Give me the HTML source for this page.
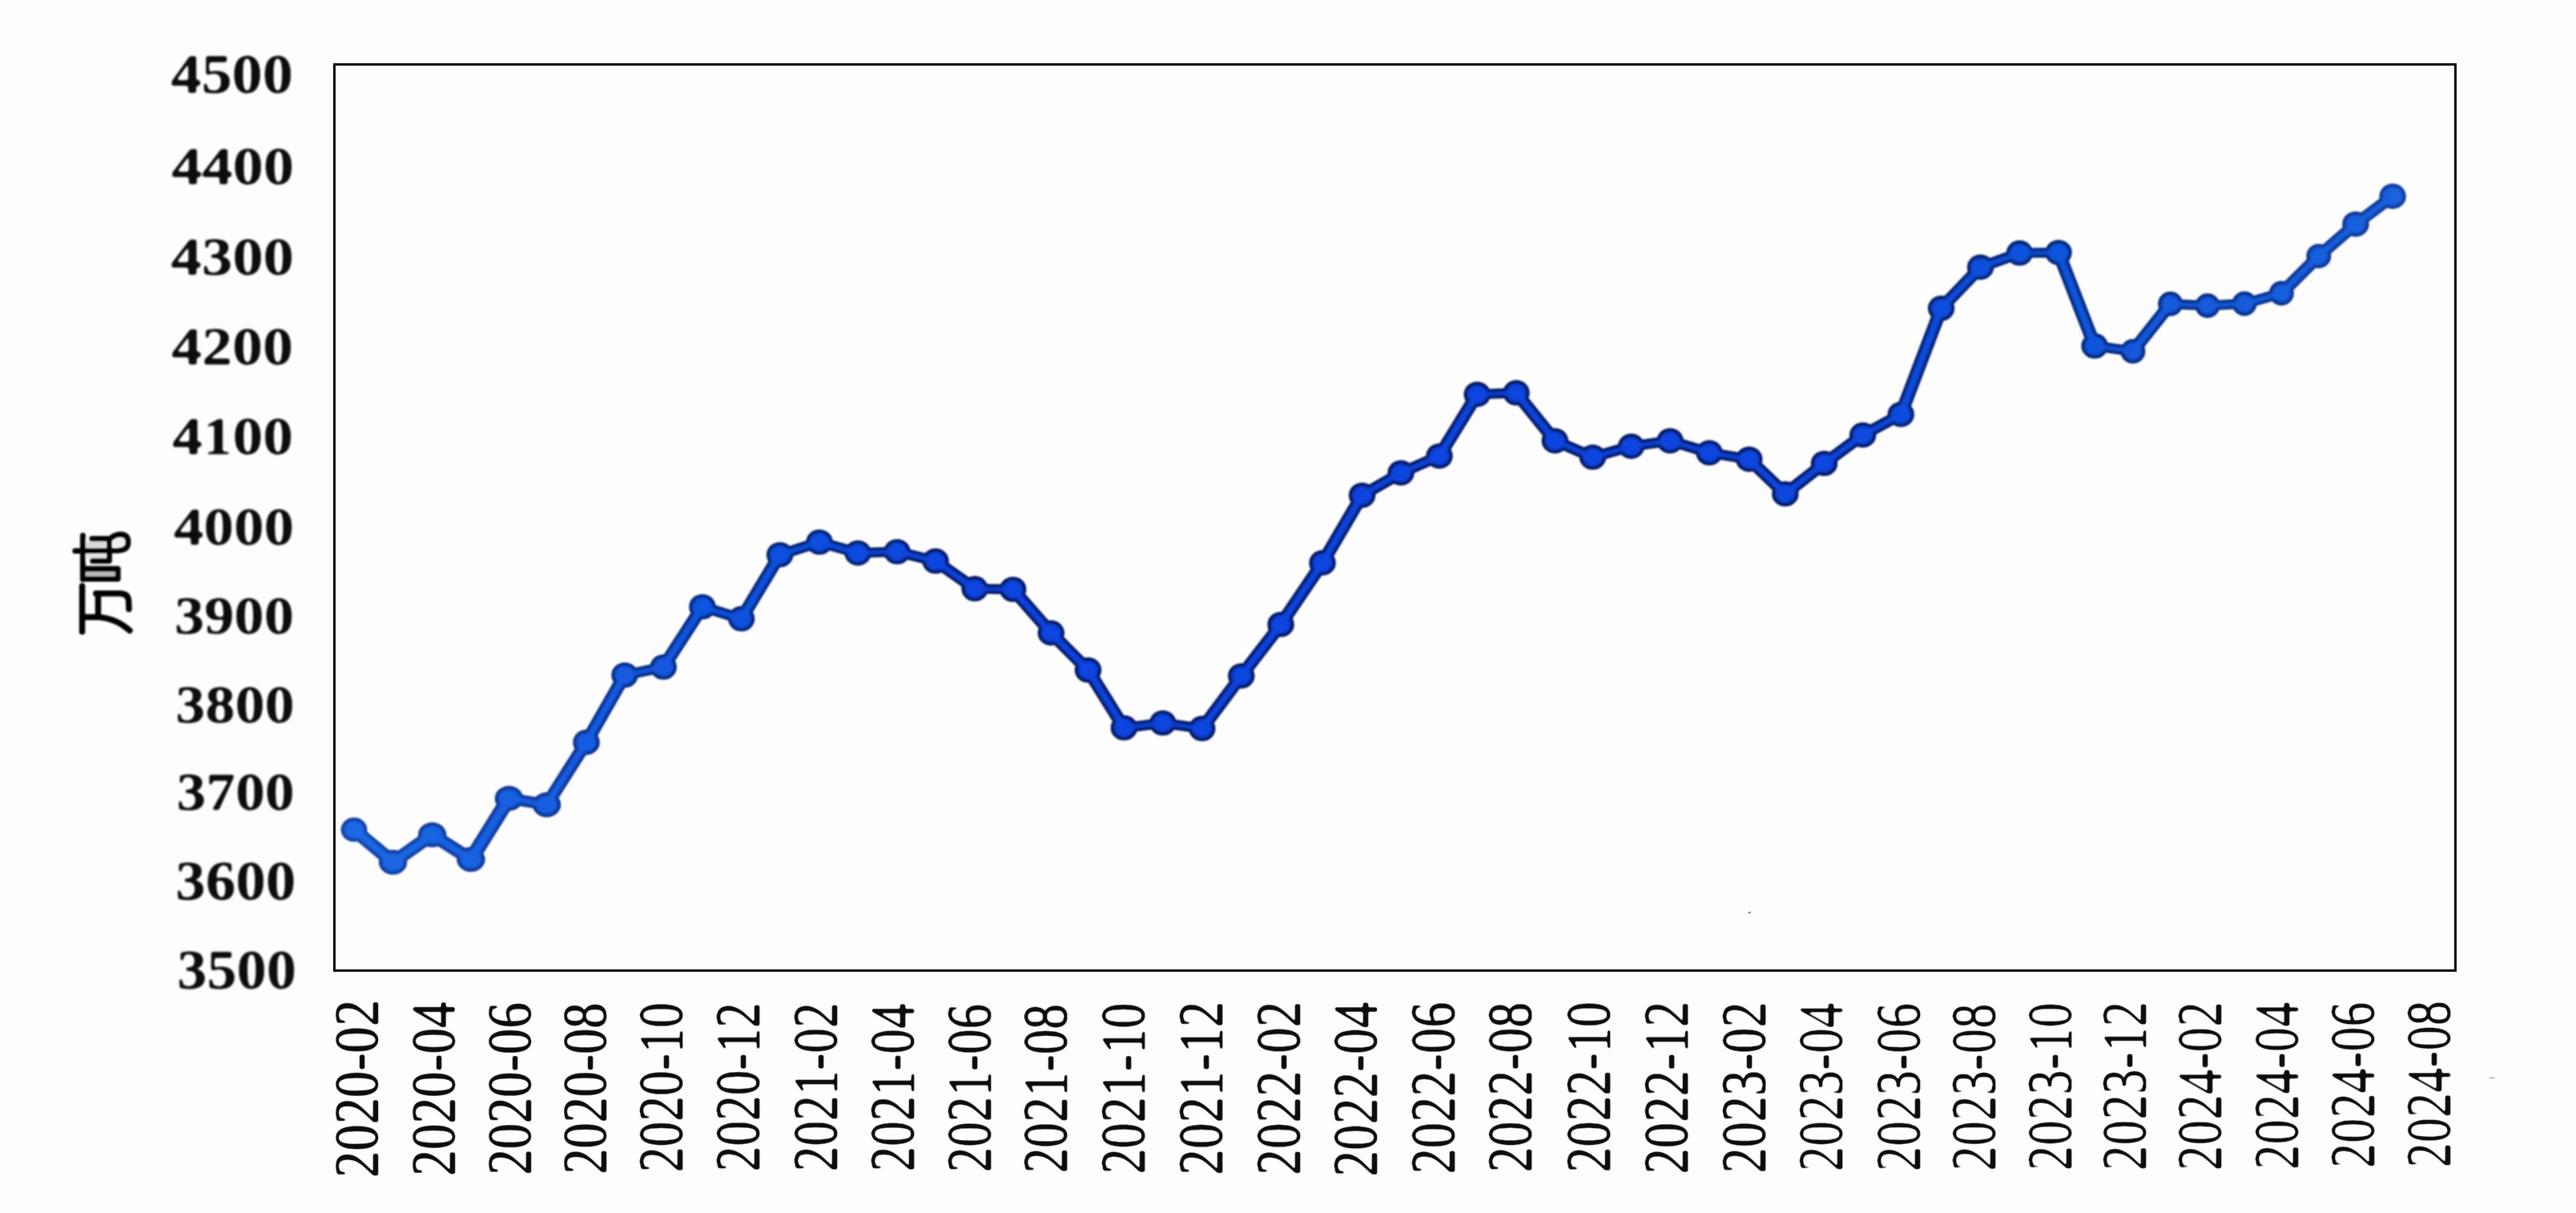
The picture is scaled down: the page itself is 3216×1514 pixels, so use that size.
<!DOCTYPE html>
<html lang="zh"><head><meta charset="utf-8"><title>chart</title>
<style>
html,body{margin:0;padding:0;background:#fdfdfd;}
html,body{width:3216px;height:1514px;}body{position:relative;font-family:"Liberation Serif",serif;}
svg{display:block;position:absolute;left:0;top:0;}
.yl{font-family:"Liberation Serif",serif;font-weight:bold;font-size:70.0px;fill:#0a0a0a;text-anchor:start;}
.xl{font-family:"Liberation Serif",serif;font-weight:normal;font-size:65.0px;fill:#0a0a0a;text-anchor:start;}
</style></head><body>
<svg width="3216" height="1514" viewBox="0 0 3216 1514" role="img" aria-label="line chart, 2020-02 to 2024-08">
<defs>
<filter id="b1" x="-5%" y="-5%" width="110%" height="110%"><feGaussianBlur stdDeviation="1.0"/></filter>
<filter id="b2" x="-5%" y="-5%" width="110%" height="110%"><feGaussianBlur stdDeviation="2.1"/></filter>
<filter id="b3" x="-5%" y="-5%" width="110%" height="110%"><feGaussianBlur stdDeviation="0.7"/></filter>
<linearGradient id="gb" gradientUnits="userSpaceOnUse" x1="420" y1="0" x2="3000" y2="0"><stop offset="0" stop-color="#1c6ae4"/><stop offset="0.16" stop-color="#1258e0"/><stop offset="0.3" stop-color="#0c44e0"/><stop offset="0.72" stop-color="#0c46e0"/><stop offset="0.86" stop-color="#1258dc"/><stop offset="1" stop-color="#1a62de"/></linearGradient>
<linearGradient id="gd" gradientUnits="userSpaceOnUse" x1="420" y1="0" x2="3000" y2="0"><stop offset="0" stop-color="#0a369a"/><stop offset="0.3" stop-color="#020e4a"/><stop offset="0.72" stop-color="#020e4a"/><stop offset="1" stop-color="#08308e"/></linearGradient>
<filter id="soft" x="-5%" y="-5%" width="110%" height="110%"><feGaussianBlur stdDeviation="1.5"/><feComponentTransfer><feFuncA type="linear" slope="2.6" intercept="-0.80"/></feComponentTransfer><feGaussianBlur stdDeviation="0.8"/></filter>
<filter id="softx" x="-5%" y="-5%" width="110%" height="110%"><feGaussianBlur stdDeviation="1.05"/><feComponentTransfer><feFuncA type="linear" slope="2.4" intercept="-0.5"/></feComponentTransfer><feGaussianBlur stdDeviation="0.4"/></filter>
<filter id="softm" x="-5%" y="-5%" width="110%" height="110%"><feGaussianBlur stdDeviation="0 1.2"/><feComponentTransfer><feFuncA type="linear" slope="4.0" intercept="-2.140"/></feComponentTransfer><feGaussianBlur stdDeviation="1.0"/><feComponentTransfer><feFuncA type="linear" slope="2.4" intercept="-0.5"/></feComponentTransfer><feGaussianBlur stdDeviation="0.4"/></filter>
<filter id="softr" x="-5%" y="-5%" width="110%" height="110%"><feGaussianBlur stdDeviation="0 1.2"/><feComponentTransfer><feFuncA type="linear" slope="4.0" intercept="-2.480"/></feComponentTransfer><feGaussianBlur stdDeviation="1.0"/><feComponentTransfer><feFuncA type="linear" slope="2.4" intercept="-0.5"/></feComponentTransfer><feGaussianBlur stdDeviation="0.4"/></filter>
<filter id="softt" x="-10%" y="-10%" width="120%" height="120%"><feGaussianBlur stdDeviation="0.8"/></filter>
</defs>
<rect x="0" y="0" width="3216" height="1514" fill="#fdfdfd"/>
<rect x="417.45" y="80.4" width="2648.0" height="1131.0" fill="none" stroke="#050505" stroke-width="2.95"/>
<g filter="url(#soft)">
<text class="yl" transform="translate(213.25,116.21) scale(1.0908,0.9820)" x="0" y="0">4500</text>
<text class="yl" transform="translate(213.94,229.72) scale(1.0938,0.9672)" x="0" y="0">4400</text>
<text class="yl" transform="translate(213.24,343.33) scale(1.0989,0.9524)" x="0" y="0">4300</text>
<text class="yl" transform="translate(213.95,454.82) scale(1.0857,0.9672)" x="0" y="0">4200</text>
<text class="yl" transform="translate(215.06,566.73) scale(1.0777,0.9524)" x="0" y="0">4100</text>
<text class="yl" transform="translate(216.76,679.92) scale(1.0733,0.9735)" x="0" y="0">4000</text>
<text class="yl" transform="translate(217.70,790.73) scale(1.0664,0.9524)" x="0" y="0">3900</text>
<text class="yl" transform="translate(219.11,901.62) scale(1.0612,0.9672)" x="0" y="0">3800</text>
<text class="yl" transform="translate(220.13,1011.42) scale(1.0538,0.9672)" x="0" y="0">3700</text>
<text class="yl" transform="translate(219.08,1123.21) scale(1.0738,0.9884)" x="0" y="0">3600</text>
<text class="yl" transform="translate(221.11,1234.01) scale(1.0642,0.9884)" x="0" y="0">3500</text>
</g>
<g filter="url(#softx)">
<text class="xl" transform="translate(471.01,1469.90) rotate(-90) scale(1.0256,1.2125)" x="0" y="0">2020-02</text>
<text class="xl" transform="translate(567.01,1467.63) rotate(-90) scale(1.0028,1.2125)" x="0" y="0">2020-04</text>
<text class="xl" transform="translate(661.81,1466.61) rotate(-90) scale(0.9942,1.2125)" x="0" y="0">2020-06</text>
<text class="xl" transform="translate(756.21,1465.49) rotate(-90) scale(0.9875,1.2125)" x="0" y="0">2020-08</text>
</g>
<g filter="url(#softm)" stroke="#0a0a0a" stroke-width="0.7" stroke-linejoin="round">
<text class="xl" transform="translate(850.51,1463.36) rotate(-90) scale(0.9794,1.2125)" x="0" y="0">2020-10</text>
<text class="xl" transform="translate(947.31,1462.25) rotate(-90) scale(0.9742,1.2125)" x="0" y="0">2020-12</text>
<text class="xl" transform="translate(1043.81,1462.25) rotate(-90) scale(0.9742,1.2125)" x="0" y="0">2021-02</text>
<text class="xl" transform="translate(1140.21,1462.23) rotate(-90) scale(0.9675,1.2125)" x="0" y="0">2021-04</text>
<text class="xl" transform="translate(1235.61,1463.34) rotate(-90) scale(0.9720,1.2125)" x="0" y="0">2021-06</text>
<text class="xl" transform="translate(1331.41,1464.36) rotate(-90) scale(0.9761,1.2125)" x="0" y="0">2021-08</text>
<text class="xl" transform="translate(1428.41,1465.49) rotate(-90) scale(0.9875,1.2125)" x="0" y="0">2021-10</text>
<text class="xl" transform="translate(1524.81,1466.63) rotate(-90) scale(1.0018,1.2125)" x="0" y="0">2021-12</text>
<text class="xl" transform="translate(1621.81,1466.63) rotate(-90) scale(1.0018,1.2125)" x="0" y="0">2022-02</text>
<text class="xl" transform="translate(1718.31,1468.75) rotate(-90) scale(1.0079,1.2125)" x="0" y="0">2022-04</text>
<text class="xl" transform="translate(1814.61,1465.50) rotate(-90) scale(0.9923,1.2125)" x="0" y="0">2022-06</text>
<text class="xl" transform="translate(1911.41,1463.37) rotate(-90) scale(0.9813,1.2125)" x="0" y="0">2022-08</text>
<text class="xl" transform="translate(2008.51,1463.38) rotate(-90) scale(0.9846,1.2125)" x="0" y="0">2022-10</text>
<text class="xl" transform="translate(2106.11,1465.52) rotate(-90) scale(0.9966,1.2125)" x="0" y="0">2022-12</text>
<text class="xl" transform="translate(2203.11,1464.39) rotate(-90) scale(0.9876,1.2125)" x="0" y="0">2023-02</text>
</g>
<g filter="url(#softr)" stroke="#0a0a0a" stroke-width="0.7" stroke-linejoin="round">
<text class="xl" transform="translate(2299.41,1462.25) rotate(-90) scale(0.9727,1.2125)" x="0" y="0">2023-04</text>
<text class="xl" transform="translate(2396.41,1462.24) rotate(-90) scale(0.9720,1.2125)" x="0" y="0">2023-06</text>
<text class="xl" transform="translate(2490.21,1461.83) rotate(-90) scale(0.9671,1.2125)" x="0" y="0">2023-08</text>
<text class="xl" transform="translate(2584.51,1461.13) rotate(-90) scale(0.9690,1.2125)" x="0" y="0">2023-10</text>
<text class="xl" transform="translate(2678.31,1461.16) rotate(-90) scale(0.9761,1.2125)" x="0" y="0">2023-12</text>
<text class="xl" transform="translate(2772.41,1461.15) rotate(-90) scale(0.9742,1.2125)" x="0" y="0">2024-02</text>
<text class="xl" transform="translate(2867.81,1460.03) rotate(-90) scale(0.9675,1.2125)" x="0" y="0">2024-04</text>
<text class="xl" transform="translate(2962.71,1457.90) rotate(-90) scale(0.9587,1.2125)" x="0" y="0">2024-06</text>
<text class="xl" transform="translate(3057.61,1457.51) rotate(-90) scale(0.9624,1.2125)" x="0" y="0">2024-08</text>
</g>
<g aria-label="万吨" filter="url(#softt)" fill="none" stroke="#050505" stroke-linecap="round" stroke-linejoin="round">
<g filter="url(#b2)" stroke="none">
<rect x="106" y="675.5" width="28" height="9" fill="#d6d6d6"/>
<rect x="106" y="690" width="28" height="7.5" fill="#e2e2e2"/>
<rect x="105" y="712.5" width="41" height="8" fill="#b4b4b4"/>
<rect x="141" y="671.5" width="15" height="11" fill="#ececec"/>
</g>
<g stroke-width="6.8">
<path d="M103.4,668.3 L103.4,723"/>
<path d="M103.4,710 L147.2,710 L147.2,722.6 L103.4,722.6"/>
<path d="M93.8,687.7 L148,687.2 Q159.8,686.6 160,676.8 Q160,667.2 150.5,667 Q143.5,667.2 138.5,671.8"/>
<path d="M114.8,672.4 L136.4,672.4 L136.4,700.1 L115.4,700.1"/>
</g>
<g stroke-width="7.4">
<path d="M102.6,731.4 L102.6,788.4"/>
<path d="M102.6,770.3 L123,770.1 C139,771.6 152,777.8 162,787"/>
<path d="M122.5,769 L122.5,741.2 M119.8,740.8 L150,740.8 Q160,741 160.6,750 L161,760.3"/>
</g>
</g>
<g filter="url(#b1)" stroke="url(#gd)" fill="url(#gd)" stroke-linecap="round">
<line x1="442.0" y1="1035.6" x2="490.6" y2="1076.2" stroke-width="16.8"/>
<line x1="490.6" y1="1076.2" x2="539.6" y2="1041.9" stroke-width="16.4"/>
<line x1="539.6" y1="1041.9" x2="587.9" y2="1072.7" stroke-width="16.2"/>
<line x1="587.9" y1="1072.7" x2="635.4" y2="996.5" stroke-width="18.1"/>
<line x1="635.4" y1="996.5" x2="682.5" y2="1004.4" stroke-width="14.0"/>
<line x1="682.5" y1="1004.4" x2="732.0" y2="926.5" stroke-width="15.9"/>
<line x1="732.0" y1="926.5" x2="780.0" y2="842.6" stroke-width="16.0"/>
<line x1="780.0" y1="842.6" x2="828.2" y2="832.6" stroke-width="12.9"/>
<line x1="828.2" y1="832.6" x2="876.9" y2="757.4" stroke-width="15.9"/>
<line x1="876.9" y1="757.4" x2="925.6" y2="772.3" stroke-width="13.3"/>
<line x1="925.6" y1="772.3" x2="973.6" y2="692.4" stroke-width="15.9"/>
<line x1="973.6" y1="692.4" x2="1023.0" y2="676.6" stroke-width="13.4"/>
<line x1="1023.0" y1="676.6" x2="1071.0" y2="690.2" stroke-width="13.3"/>
<line x1="1071.0" y1="690.2" x2="1120.0" y2="688.6" stroke-width="12.2"/>
<line x1="1120.0" y1="688.6" x2="1168.0" y2="700.3" stroke-width="13.1"/>
<line x1="1168.0" y1="700.3" x2="1217.0" y2="734.8" stroke-width="14.6"/>
<line x1="1217.0" y1="734.8" x2="1264.6" y2="735.6" stroke-width="12.1"/>
<line x1="1264.6" y1="735.6" x2="1312.2" y2="790.0" stroke-width="15.5"/>
<line x1="1312.2" y1="790.0" x2="1358.4" y2="836.3" stroke-width="15.3"/>
<line x1="1358.4" y1="836.3" x2="1403.3" y2="908.4" stroke-width="15.9"/>
<line x1="1403.3" y1="908.4" x2="1451.7" y2="902.4" stroke-width="12.6"/>
<line x1="1451.7" y1="902.4" x2="1500.7" y2="909.3" stroke-width="12.6"/>
<line x1="1500.7" y1="909.3" x2="1549.7" y2="843.6" stroke-width="15.7"/>
<line x1="1549.7" y1="843.6" x2="1599.0" y2="779.4" stroke-width="15.6"/>
<line x1="1599.0" y1="779.4" x2="1651.0" y2="702.5" stroke-width="15.8"/>
<line x1="1651.0" y1="702.5" x2="1700.5" y2="618.2" stroke-width="16.0"/>
<line x1="1700.5" y1="618.2" x2="1749.0" y2="590.2" stroke-width="14.3"/>
<line x1="1749.0" y1="590.2" x2="1797.0" y2="569.2" stroke-width="13.8"/>
<line x1="1797.0" y1="569.2" x2="1844.2" y2="492.2" stroke-width="15.9"/>
<line x1="1844.2" y1="492.2" x2="1893.0" y2="490.3" stroke-width="12.2"/>
<line x1="1893.0" y1="490.3" x2="1941.3" y2="550.2" stroke-width="15.6"/>
<line x1="1941.3" y1="550.2" x2="1988.4" y2="570.6" stroke-width="13.8"/>
<line x1="1988.4" y1="570.6" x2="2036.5" y2="557.0" stroke-width="13.3"/>
<line x1="2036.5" y1="557.0" x2="2085.0" y2="550.2" stroke-width="12.6"/>
<line x1="2085.0" y1="550.2" x2="2134.0" y2="565.1" stroke-width="13.3"/>
<line x1="2134.0" y1="565.1" x2="2183.7" y2="573.2" stroke-width="12.7"/>
<line x1="2183.7" y1="573.2" x2="2228.8" y2="616.4" stroke-width="15.2"/>
<line x1="2228.8" y1="616.4" x2="2277.4" y2="578.4" stroke-width="14.8"/>
<line x1="2277.4" y1="578.4" x2="2325.6" y2="543.0" stroke-width="14.7"/>
<line x1="2325.6" y1="543.0" x2="2373.2" y2="517.2" stroke-width="14.2"/>
<line x1="2373.2" y1="517.2" x2="2423.5" y2="384.8" stroke-width="16.3"/>
<line x1="2423.5" y1="384.8" x2="2472.5" y2="333.5" stroke-width="15.3"/>
<line x1="2472.5" y1="333.5" x2="2521.4" y2="315.8" stroke-width="13.6"/>
<line x1="2521.4" y1="315.8" x2="2570.0" y2="315.2" stroke-width="12.1"/>
<line x1="2570.0" y1="315.2" x2="2615.1" y2="431.8" stroke-width="16.3"/>
<line x1="2615.1" y1="431.8" x2="2662.8" y2="438.4" stroke-width="12.6"/>
<line x1="2662.8" y1="438.4" x2="2709.6" y2="379.3" stroke-width="15.6"/>
<line x1="2709.6" y1="379.3" x2="2756.0" y2="381.5" stroke-width="12.2"/>
<line x1="2756.0" y1="381.5" x2="2802.0" y2="379.0" stroke-width="12.2"/>
<line x1="2802.0" y1="379.0" x2="2848.3" y2="366.0" stroke-width="13.2"/>
<line x1="2848.3" y1="366.0" x2="2894.8" y2="319.6" stroke-width="15.2"/>
<line x1="2894.8" y1="319.6" x2="2940.9" y2="279.7" stroke-width="15.0"/>
<line x1="2940.9" y1="279.7" x2="2987.1" y2="245.0" stroke-width="14.8"/>
<ellipse cx="442.0" cy="1035.6" rx="16.3" ry="15.0" stroke="none"/>
<ellipse cx="490.6" cy="1076.2" rx="17.6" ry="15.4" stroke="none"/>
<ellipse cx="539.6" cy="1041.9" rx="17.6" ry="15.4" stroke="none"/>
<ellipse cx="587.9" cy="1072.7" rx="17.6" ry="15.4" stroke="none"/>
<ellipse cx="635.4" cy="996.5" rx="17.6" ry="15.4" stroke="none"/>
<ellipse cx="682.5" cy="1004.4" rx="17.6" ry="15.4" stroke="none"/>
<ellipse cx="732.0" cy="926.5" rx="16.6" ry="15.7" stroke="none"/>
<ellipse cx="780.0" cy="842.6" rx="16.6" ry="15.7" stroke="none"/>
<ellipse cx="828.2" cy="832.6" rx="16.6" ry="15.7" stroke="none"/>
<ellipse cx="876.9" cy="757.4" rx="16.6" ry="15.7" stroke="none"/>
<ellipse cx="925.6" cy="772.3" rx="16.6" ry="15.7" stroke="none"/>
<ellipse cx="973.6" cy="692.4" rx="16.6" ry="15.7" stroke="none"/>
<ellipse cx="1023.0" cy="676.6" rx="16.6" ry="15.7" stroke="none"/>
<ellipse cx="1071.0" cy="690.2" rx="16.6" ry="15.7" stroke="none"/>
<ellipse cx="1120.0" cy="688.6" rx="16.6" ry="15.7" stroke="none"/>
<ellipse cx="1168.0" cy="700.3" rx="16.6" ry="15.7" stroke="none"/>
<ellipse cx="1217.0" cy="734.8" rx="16.6" ry="15.7" stroke="none"/>
<ellipse cx="1264.6" cy="735.6" rx="16.6" ry="15.7" stroke="none"/>
<ellipse cx="1312.2" cy="790.0" rx="16.6" ry="15.7" stroke="none"/>
<ellipse cx="1358.4" cy="836.3" rx="16.6" ry="15.7" stroke="none"/>
<ellipse cx="1403.3" cy="908.4" rx="16.6" ry="15.7" stroke="none"/>
<ellipse cx="1451.7" cy="902.4" rx="16.6" ry="15.7" stroke="none"/>
<ellipse cx="1500.7" cy="909.3" rx="16.6" ry="15.7" stroke="none"/>
<ellipse cx="1549.7" cy="843.6" rx="16.6" ry="15.7" stroke="none"/>
<ellipse cx="1599.0" cy="779.4" rx="16.6" ry="15.7" stroke="none"/>
<ellipse cx="1651.0" cy="702.5" rx="16.6" ry="15.7" stroke="none"/>
<ellipse cx="1700.5" cy="618.2" rx="16.6" ry="15.7" stroke="none"/>
<ellipse cx="1749.0" cy="590.2" rx="16.6" ry="15.7" stroke="none"/>
<ellipse cx="1797.0" cy="569.2" rx="16.6" ry="15.7" stroke="none"/>
<ellipse cx="1844.2" cy="492.2" rx="16.6" ry="15.7" stroke="none"/>
<ellipse cx="1893.0" cy="490.3" rx="16.6" ry="15.7" stroke="none"/>
<ellipse cx="1941.3" cy="550.2" rx="16.6" ry="15.7" stroke="none"/>
<ellipse cx="1988.4" cy="570.6" rx="16.6" ry="15.7" stroke="none"/>
<ellipse cx="2036.5" cy="557.0" rx="16.6" ry="15.7" stroke="none"/>
<ellipse cx="2085.0" cy="550.2" rx="16.6" ry="15.7" stroke="none"/>
<ellipse cx="2134.0" cy="565.1" rx="16.6" ry="15.7" stroke="none"/>
<ellipse cx="2183.7" cy="573.2" rx="16.6" ry="15.7" stroke="none"/>
<ellipse cx="2228.8" cy="616.4" rx="16.6" ry="15.7" stroke="none"/>
<ellipse cx="2277.4" cy="578.4" rx="16.6" ry="15.7" stroke="none"/>
<ellipse cx="2325.6" cy="543.0" rx="16.6" ry="15.7" stroke="none"/>
<ellipse cx="2373.2" cy="517.2" rx="16.6" ry="15.7" stroke="none"/>
<ellipse cx="2423.5" cy="384.8" rx="16.6" ry="15.7" stroke="none"/>
<ellipse cx="2472.5" cy="333.5" rx="16.6" ry="15.7" stroke="none"/>
<ellipse cx="2521.4" cy="315.8" rx="16.6" ry="15.7" stroke="none"/>
<ellipse cx="2570.0" cy="315.2" rx="16.6" ry="15.7" stroke="none"/>
<ellipse cx="2615.1" cy="431.8" rx="16.6" ry="15.7" stroke="none"/>
<ellipse cx="2662.8" cy="438.4" rx="15.4" ry="15.2" stroke="none"/>
<ellipse cx="2709.6" cy="379.3" rx="15.4" ry="15.2" stroke="none"/>
<ellipse cx="2756.0" cy="381.5" rx="15.4" ry="15.2" stroke="none"/>
<ellipse cx="2802.0" cy="379.0" rx="15.4" ry="15.2" stroke="none"/>
<ellipse cx="2848.3" cy="366.0" rx="15.4" ry="15.2" stroke="none"/>
<ellipse cx="2894.8" cy="319.6" rx="15.4" ry="15.2" stroke="none"/>
<ellipse cx="2940.9" cy="279.7" rx="16.6" ry="15.7" stroke="none"/>
<ellipse cx="2987.1" cy="245.0" rx="16.6" ry="15.7" stroke="none"/>
</g>
<g filter="url(#b2)" stroke="url(#gb)" fill="url(#gb)" stroke-linecap="round">
<line x1="442.0" y1="1035.6" x2="490.6" y2="1076.2" stroke-width="10.4"/>
<line x1="490.6" y1="1076.2" x2="539.6" y2="1041.9" stroke-width="10.0"/>
<line x1="539.6" y1="1041.9" x2="587.9" y2="1072.7" stroke-width="9.8"/>
<line x1="587.9" y1="1072.7" x2="635.4" y2="996.5" stroke-width="11.7"/>
<line x1="635.4" y1="996.5" x2="682.5" y2="1004.4" stroke-width="7.6"/>
<line x1="682.5" y1="1004.4" x2="732.0" y2="926.5" stroke-width="9.5"/>
<line x1="732.0" y1="926.5" x2="780.0" y2="842.6" stroke-width="9.6"/>
<line x1="780.0" y1="842.6" x2="828.2" y2="832.6" stroke-width="6.5"/>
<line x1="828.2" y1="832.6" x2="876.9" y2="757.4" stroke-width="9.5"/>
<line x1="876.9" y1="757.4" x2="925.6" y2="772.3" stroke-width="6.9"/>
<line x1="925.6" y1="772.3" x2="973.6" y2="692.4" stroke-width="9.5"/>
<line x1="973.6" y1="692.4" x2="1023.0" y2="676.6" stroke-width="7.0"/>
<line x1="1023.0" y1="676.6" x2="1071.0" y2="690.2" stroke-width="6.9"/>
<line x1="1071.0" y1="690.2" x2="1120.0" y2="688.6" stroke-width="5.8"/>
<line x1="1120.0" y1="688.6" x2="1168.0" y2="700.3" stroke-width="6.7"/>
<line x1="1168.0" y1="700.3" x2="1217.0" y2="734.8" stroke-width="8.2"/>
<line x1="1217.0" y1="734.8" x2="1264.6" y2="735.6" stroke-width="5.7"/>
<line x1="1264.6" y1="735.6" x2="1312.2" y2="790.0" stroke-width="9.1"/>
<line x1="1312.2" y1="790.0" x2="1358.4" y2="836.3" stroke-width="8.9"/>
<line x1="1358.4" y1="836.3" x2="1403.3" y2="908.4" stroke-width="9.5"/>
<line x1="1403.3" y1="908.4" x2="1451.7" y2="902.4" stroke-width="6.2"/>
<line x1="1451.7" y1="902.4" x2="1500.7" y2="909.3" stroke-width="6.2"/>
<line x1="1500.7" y1="909.3" x2="1549.7" y2="843.6" stroke-width="9.3"/>
<line x1="1549.7" y1="843.6" x2="1599.0" y2="779.4" stroke-width="9.2"/>
<line x1="1599.0" y1="779.4" x2="1651.0" y2="702.5" stroke-width="9.4"/>
<line x1="1651.0" y1="702.5" x2="1700.5" y2="618.2" stroke-width="9.6"/>
<line x1="1700.5" y1="618.2" x2="1749.0" y2="590.2" stroke-width="7.9"/>
<line x1="1749.0" y1="590.2" x2="1797.0" y2="569.2" stroke-width="7.4"/>
<line x1="1797.0" y1="569.2" x2="1844.2" y2="492.2" stroke-width="9.5"/>
<line x1="1844.2" y1="492.2" x2="1893.0" y2="490.3" stroke-width="5.8"/>
<line x1="1893.0" y1="490.3" x2="1941.3" y2="550.2" stroke-width="9.2"/>
<line x1="1941.3" y1="550.2" x2="1988.4" y2="570.6" stroke-width="7.4"/>
<line x1="1988.4" y1="570.6" x2="2036.5" y2="557.0" stroke-width="6.9"/>
<line x1="2036.5" y1="557.0" x2="2085.0" y2="550.2" stroke-width="6.2"/>
<line x1="2085.0" y1="550.2" x2="2134.0" y2="565.1" stroke-width="6.9"/>
<line x1="2134.0" y1="565.1" x2="2183.7" y2="573.2" stroke-width="6.3"/>
<line x1="2183.7" y1="573.2" x2="2228.8" y2="616.4" stroke-width="8.8"/>
<line x1="2228.8" y1="616.4" x2="2277.4" y2="578.4" stroke-width="8.4"/>
<line x1="2277.4" y1="578.4" x2="2325.6" y2="543.0" stroke-width="8.3"/>
<line x1="2325.6" y1="543.0" x2="2373.2" y2="517.2" stroke-width="7.8"/>
<line x1="2373.2" y1="517.2" x2="2423.5" y2="384.8" stroke-width="9.9"/>
<line x1="2423.5" y1="384.8" x2="2472.5" y2="333.5" stroke-width="8.9"/>
<line x1="2472.5" y1="333.5" x2="2521.4" y2="315.8" stroke-width="7.2"/>
<line x1="2521.4" y1="315.8" x2="2570.0" y2="315.2" stroke-width="5.7"/>
<line x1="2570.0" y1="315.2" x2="2615.1" y2="431.8" stroke-width="9.9"/>
<line x1="2615.1" y1="431.8" x2="2662.8" y2="438.4" stroke-width="6.2"/>
<line x1="2662.8" y1="438.4" x2="2709.6" y2="379.3" stroke-width="9.2"/>
<line x1="2709.6" y1="379.3" x2="2756.0" y2="381.5" stroke-width="5.8"/>
<line x1="2756.0" y1="381.5" x2="2802.0" y2="379.0" stroke-width="5.8"/>
<line x1="2802.0" y1="379.0" x2="2848.3" y2="366.0" stroke-width="6.8"/>
<line x1="2848.3" y1="366.0" x2="2894.8" y2="319.6" stroke-width="8.8"/>
<line x1="2894.8" y1="319.6" x2="2940.9" y2="279.7" stroke-width="8.6"/>
<line x1="2940.9" y1="279.7" x2="2987.1" y2="245.0" stroke-width="8.4"/>
<ellipse cx="442.0" cy="1035.6" rx="12.9" ry="11.6" stroke="none"/>
<ellipse cx="490.6" cy="1076.2" rx="14.2" ry="12.0" stroke="none"/>
<ellipse cx="539.6" cy="1041.9" rx="14.2" ry="12.0" stroke="none"/>
<ellipse cx="587.9" cy="1072.7" rx="14.2" ry="12.0" stroke="none"/>
<ellipse cx="635.4" cy="996.5" rx="14.2" ry="12.0" stroke="none"/>
<ellipse cx="682.5" cy="1004.4" rx="14.2" ry="12.0" stroke="none"/>
<ellipse cx="732.0" cy="926.5" rx="13.2" ry="12.3" stroke="none"/>
<ellipse cx="780.0" cy="842.6" rx="13.2" ry="12.3" stroke="none"/>
<ellipse cx="828.2" cy="832.6" rx="13.2" ry="12.3" stroke="none"/>
<ellipse cx="876.9" cy="757.4" rx="13.2" ry="12.3" stroke="none"/>
<ellipse cx="925.6" cy="772.3" rx="13.2" ry="12.3" stroke="none"/>
<ellipse cx="973.6" cy="692.4" rx="13.2" ry="12.3" stroke="none"/>
<ellipse cx="1023.0" cy="676.6" rx="13.2" ry="12.3" stroke="none"/>
<ellipse cx="1071.0" cy="690.2" rx="13.2" ry="12.3" stroke="none"/>
<ellipse cx="1120.0" cy="688.6" rx="13.2" ry="12.3" stroke="none"/>
<ellipse cx="1168.0" cy="700.3" rx="13.2" ry="12.3" stroke="none"/>
<ellipse cx="1217.0" cy="734.8" rx="13.2" ry="12.3" stroke="none"/>
<ellipse cx="1264.6" cy="735.6" rx="13.2" ry="12.3" stroke="none"/>
<ellipse cx="1312.2" cy="790.0" rx="13.2" ry="12.3" stroke="none"/>
<ellipse cx="1358.4" cy="836.3" rx="13.2" ry="12.3" stroke="none"/>
<ellipse cx="1403.3" cy="908.4" rx="13.2" ry="12.3" stroke="none"/>
<ellipse cx="1451.7" cy="902.4" rx="13.2" ry="12.3" stroke="none"/>
<ellipse cx="1500.7" cy="909.3" rx="13.2" ry="12.3" stroke="none"/>
<ellipse cx="1549.7" cy="843.6" rx="13.2" ry="12.3" stroke="none"/>
<ellipse cx="1599.0" cy="779.4" rx="13.2" ry="12.3" stroke="none"/>
<ellipse cx="1651.0" cy="702.5" rx="13.2" ry="12.3" stroke="none"/>
<ellipse cx="1700.5" cy="618.2" rx="13.2" ry="12.3" stroke="none"/>
<ellipse cx="1749.0" cy="590.2" rx="13.2" ry="12.3" stroke="none"/>
<ellipse cx="1797.0" cy="569.2" rx="13.2" ry="12.3" stroke="none"/>
<ellipse cx="1844.2" cy="492.2" rx="13.2" ry="12.3" stroke="none"/>
<ellipse cx="1893.0" cy="490.3" rx="13.2" ry="12.3" stroke="none"/>
<ellipse cx="1941.3" cy="550.2" rx="13.2" ry="12.3" stroke="none"/>
<ellipse cx="1988.4" cy="570.6" rx="13.2" ry="12.3" stroke="none"/>
<ellipse cx="2036.5" cy="557.0" rx="13.2" ry="12.3" stroke="none"/>
<ellipse cx="2085.0" cy="550.2" rx="13.2" ry="12.3" stroke="none"/>
<ellipse cx="2134.0" cy="565.1" rx="13.2" ry="12.3" stroke="none"/>
<ellipse cx="2183.7" cy="573.2" rx="13.2" ry="12.3" stroke="none"/>
<ellipse cx="2228.8" cy="616.4" rx="13.2" ry="12.3" stroke="none"/>
<ellipse cx="2277.4" cy="578.4" rx="13.2" ry="12.3" stroke="none"/>
<ellipse cx="2325.6" cy="543.0" rx="13.2" ry="12.3" stroke="none"/>
<ellipse cx="2373.2" cy="517.2" rx="13.2" ry="12.3" stroke="none"/>
<ellipse cx="2423.5" cy="384.8" rx="13.2" ry="12.3" stroke="none"/>
<ellipse cx="2472.5" cy="333.5" rx="13.2" ry="12.3" stroke="none"/>
<ellipse cx="2521.4" cy="315.8" rx="13.2" ry="12.3" stroke="none"/>
<ellipse cx="2570.0" cy="315.2" rx="13.2" ry="12.3" stroke="none"/>
<ellipse cx="2615.1" cy="431.8" rx="13.2" ry="12.3" stroke="none"/>
<ellipse cx="2662.8" cy="438.4" rx="12.0" ry="11.8" stroke="none"/>
<ellipse cx="2709.6" cy="379.3" rx="12.0" ry="11.8" stroke="none"/>
<ellipse cx="2756.0" cy="381.5" rx="12.0" ry="11.8" stroke="none"/>
<ellipse cx="2802.0" cy="379.0" rx="12.0" ry="11.8" stroke="none"/>
<ellipse cx="2848.3" cy="366.0" rx="12.0" ry="11.8" stroke="none"/>
<ellipse cx="2894.8" cy="319.6" rx="12.0" ry="11.8" stroke="none"/>
<ellipse cx="2940.9" cy="279.7" rx="13.2" ry="12.3" stroke="none"/>
<ellipse cx="2987.1" cy="245.0" rx="13.2" ry="12.3" stroke="none"/>
</g>
<g filter="url(#b3)"><ellipse cx="3111" cy="1345.4" rx="3.6" ry="0.9" fill="#b4b4b4"/><ellipse cx="2184.1" cy="1138.9" rx="1.9" ry="1.2" fill="#8a8a8a"/></g>
</svg>
</body></html>
